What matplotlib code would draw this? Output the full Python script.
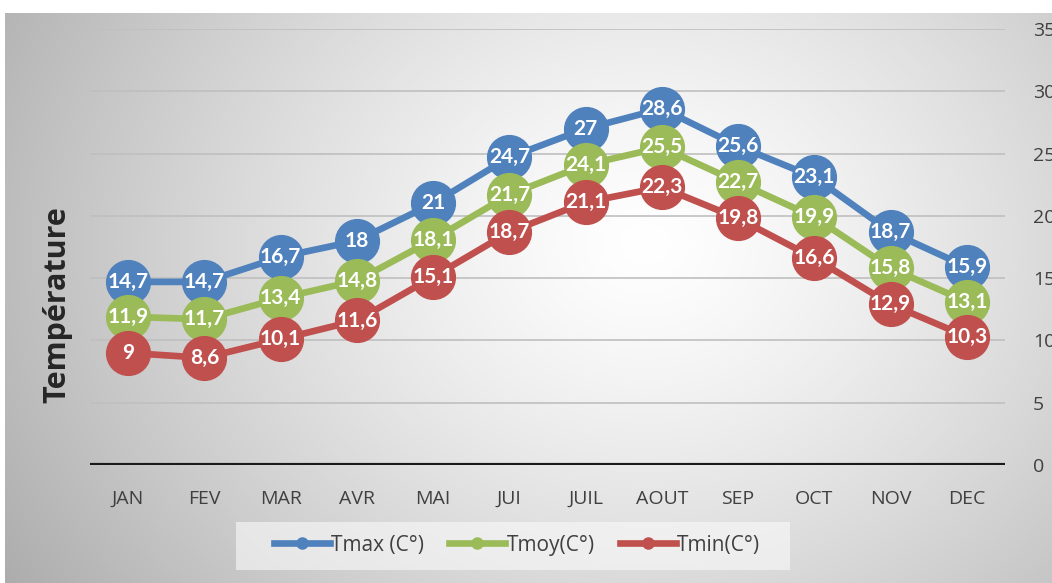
import numpy as np
import matplotlib
matplotlib.use("Agg")
import matplotlib.pyplot as plt
from matplotlib.lines import Line2D
from matplotlib.patches import Rectangle

months = ["JAN", "FEV", "MAR", "AVR", "MAI", "JUI", "JUIL", "AOUT", "SEP", "OCT", "NOV", "DEC"]
tmax = [14.7, 14.7, 16.7, 18, 21, 24.7, 27, 28.6, 25.6, 23.1, 18.7, 15.9]
tmoy = [11.9, 11.7, 13.4, 14.8, 18.1, 21.7, 24.1, 25.5, 22.7, 19.9, 15.8, 13.1]
tmin = [9, 8.6, 10.1, 11.6, 15.1, 18.7, 21.1, 22.3, 19.8, 16.6, 12.9, 10.3]
series_names = ["Tmax (C°)", "Tmoy(C°)", "Tmin(C°)"]
colors = ["#4F81BD", "#9BBB59", "#C0504D"]

W, H = 1052, 583
fig = plt.figure(figsize=(W / 100, H / 100), dpi=100)
fig.patch.set_facecolor("white")

# background radial gradient
bg = fig.add_axes([5 / W, 0, 1 - 5 / W, 1 - 13 / H])
bg.set_axis_off()
yy, xx = np.mgrid[0:570, 0:1047]
cx, cy = 640, 230
r = np.sqrt(((xx - cx) / 620.0) ** 2 + ((yy - cy) / 520.0) ** 2)
val = np.clip(1.0 - 0.25 * r ** 1.3, 0, 1)
img = np.dstack([val, val, val])
bg.imshow(img, aspect="auto", extent=[0, 1, 0, 1], origin="upper")
bg.set_xlim(0, 1)
bg.set_ylim(0, 1)

ax = fig.add_axes([90 / W, 1 - 465 / H, 915 / W, (465 - 29) / H])
ax.patch.set_alpha(0)
x = np.arange(len(months))
for name, vals, c, z in zip(series_names, [tmax, tmoy, tmin], colors, [3, 4, 5]):
    ax.plot(x, vals, color=c, lw=4.8, marker="o", markersize=31.5, zorder=z,
            solid_capstyle="round")
for vals in [tmax, tmoy, tmin]:
    for xi, v in zip(x, vals):
        s = ("%g" % v).replace(".", ",")
        ax.text(xi, v, s, ha="center", va="center", color="white",
                fontsize=15, fontweight="bold", family="Lato", zorder=10)

ax.set_xlim(-0.5, 11.5)
ax.set_ylim(0, 35)
ax.set_yticks(np.arange(0, 36, 5))
ax.yaxis.tick_right()
ax.grid(axis="y", color="#bfbfbf", lw=1.2, zorder=0)
ax.axhline(0, color="#1a1a1a", lw=3, zorder=2)
for sp in ax.spines.values():
    sp.set_visible(False)
ax.tick_params(axis="both", length=0, labelsize=14, labelcolor="#404040")
ax.tick_params(axis="y", pad=20)
ax.tick_params(axis="x", pad=18)
ax.set_xticks(x)
ax.set_xticklabels(months)
for lab in ax.get_xticklabels() + ax.get_yticklabels():
    lab.set_family("Open Sans")

fig.text(57 / W, 1 - 305 / H, "Température", rotation=90, ha="center", va="center",
         fontsize=22, fontweight="bold", color="#262626", family="Open Sans")

# legend box
fig.patches.append(Rectangle((236 / W, 1 - 570 / H), 554 / W, 48 / H,
                             transform=fig.transFigure, facecolor="#fafafa",
                             alpha=0.6, edgecolor="none", zorder=1))
handles = [Line2D([0], [0], color=c, lw=4.8, marker="o", markersize=8) for c in colors]
leg = fig.legend(handles, series_names, loc="center", bbox_to_anchor=(517 / W, 1 - 545 / H),
                 ncol=3, frameon=False, fontsize=15, handlelength=2.7, columnspacing=1.2,
                 handletextpad=0.05, borderpad=0.6)
for t in leg.get_texts():
    t.set_color("#404040")
    t.set_family("Open Sans")

fig.savefig("out.png", dpi=100)
